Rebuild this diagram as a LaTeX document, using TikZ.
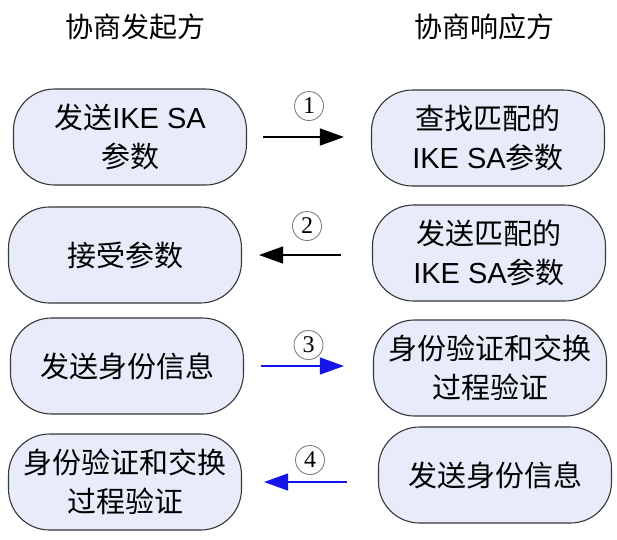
\documentclass[tikz,border=0pt]{standalone}
\usepackage{fontspec}
\setmainfont{Liberation Sans}
\newfontfamily\cjk{Noto Sans CJK SC}
\newfontfamily\numfont{Liberation Serif}
\usetikzlibrary{arrows.meta}
\definecolor{boxfill}{RGB}{232,236,250}
\definecolor{boxline}{RGB}{55,55,55}
\definecolor{msgblue}{RGB}{20,20,235}

\begin{document}
\begin{tikzpicture}[x=1pt,y=-1pt,
  stage/.style={draw=boxline,fill=boxfill,line width=1.1pt,rounded corners=41pt,
    minimum width=233pt,minimum height=96pt,align=center,
    font=\fontsize{29}{39}\selectfont\cjk},
  side/.style={font=\fontsize{28}{28}\selectfont\cjk},
  msg/.style={line width=1.3pt,-{Triangle[length=24pt,width=17pt]}},
  num/.style={circle,draw=gray,text=black,line width=.9pt,inner sep=0pt,minimum size=29pt,
    font=\fontsize{24}{24}\selectfont\numfont}]
\useasboundingbox (0,0) rectangle (617,539);
% titles
\node[side] (hl) at (135,27) {协商发起方};
\node[side] (hr) at (484,27) {协商响应方};
% initiator
\node[stage] (l1) at (130,137) {发送{\rmfamily IKE SA}\\参数};
\node[stage] (l2) at (125,255) {接受参数};
\node[stage] (l3) at (127,366) {发送身份信息};
\node[stage] (l4) at (125,482) {身份验证和交换\\过程验证};
% responder
\node[stage] (r1) at (488,138) {查找匹配的\\{\rmfamily IKE SA}参数};
\node[stage] (r2) at (489,253) {发送匹配的\\{\rmfamily IKE SA}参数};
\node[stage] (r3) at (490,368) {身份验证和交换\\过程验证};
\node[stage] (r4) at (495,475) {发送身份信息};
% messages
\draw[msg,shorten <=16pt,shorten >=27pt] (l1.east) -- (l1.east -| r1.west)
  node[num,midway,yshift=31pt] (n1) {1};
\draw[msg,shorten <=31pt,shorten >=17pt] (l2.east -| r2.west) -- (l2.east)
  node[num,midway,yshift=29pt] (n2) {2};
\draw[msg,msgblue,shorten <=17pt,shorten >=29pt] (l3.east) -- (l3.east -| r3.west)
  node[num,midway,yshift=21pt] (n3) {3};
\draw[msg,msgblue,shorten <=31pt,shorten >=22pt] (l4.east -| r4.west) -- (l4.east)
  node[num,midway,yshift=22pt] (n4) {4};
\end{tikzpicture}
\end{document}
